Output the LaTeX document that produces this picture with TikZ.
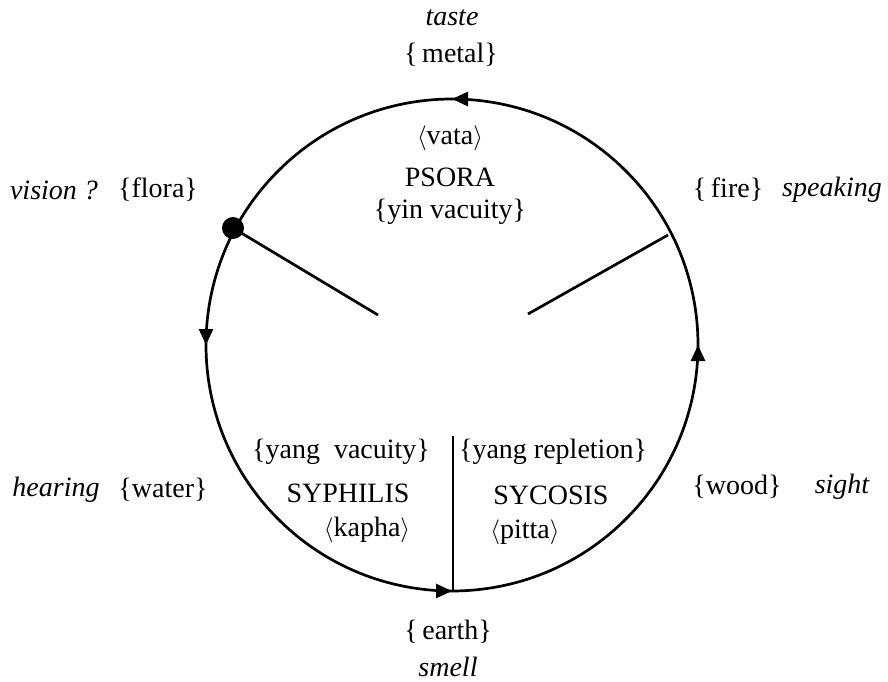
\documentclass[tikz,border=0pt]{standalone}
\usepackage{fontspec}
\setmainfont{Liberation Serif}
\usetikzlibrary{arrows.meta,decorations.markings}
\tikzset{
  txt/.style={inner sep=0pt, font=\fontsize{28}{34}\selectfont},
  itxt/.style={txt, font=\fontsize{28}{34}\selectfont\itshape},
  ring/.style={line width=2.7pt,
    decoration={markings,
      mark=at position 0.125 with {\arrow{Triangle[length=16pt,width=14pt]}},
      mark=at position 0.375 with {\arrow{Triangle[length=16pt,width=14pt]}},
      mark=at position 0.625 with {\arrow{Triangle[length=16pt,width=14pt]}},
      mark=at position 0.875 with {\arrow{Triangle[length=16pt,width=14pt]}}},
    postaction={decorate}},
  spoke/.style={line width=2.7pt}
}
\begin{document}
\begin{tikzpicture}[x=1pt,y=1pt]
\useasboundingbox (0,0) rectangle (888,681);
\coordinate (c) at (452,336);
\draw[ring] (c) ++(-45:246) arc[start angle=-45, end angle=315, radius=246];
% spokes
\coordinate (dot) at (233,453);
\coordinate (lin) at (378,366);
\coordinate (rout) at (668,446);
\coordinate (rin) at (528,367);
\coordinate (vtop) at (453,245);
\coordinate (vbot) at (453,90);
\draw[spoke] (dot) -- (lin);
\draw[spoke] (rout) -- (rin);
\draw[spoke] (vtop) -- (vbot);
\fill (dot) circle[radius=11];
% texts
\node[itxt] (taste) at (452,663) {taste};
\node[txt] (metal) at (451,626) {\{\,metal\}};
\node[txt] (vata) at (450,543) {$\langle$vata$\rangle$};
\node[txt] (psora) at (450,504) {PSORA};
\node[txt] (yinvac) at (450,469) {\{yin vacuity\}};
\node[itxt] (vision) at (54,491) {vision ?};
\node[txt] (flora) at (158,491) {\{flora\}};
\node[txt] (fire) at (728,491) {\{\,fire\}};
\node[itxt] (speaking) at (832,491) {speaking};
\node[itxt] (hearing) at (56,191) {hearing};
\node[txt] (water) at (163,191) {\{water\}};
\node[txt] (yangvac) at (341,229) {\{yang\ \ vacuity\}};
\node[txt] (syph) at (348,188) {SYPHILIS};
\node[txt] (kapha) at (367,151) {$\langle$kapha$\rangle$};
\node[txt] (yangrep) at (553,229) {\{yang repletion\}};
\node[txt] (syc) at (551,186) {SYCOSIS};
\node[txt] (pitta) at (525,149) {$\langle$pitta$\rangle$};
\node[txt] (wood) at (737,194) {\{wood\}};
\node[itxt] (sight) at (842,194) {sight};
\node[txt] (earth) at (448,49) {\{\,earth\}};
\node[itxt] (smell) at (448,14) {smell};
\end{tikzpicture}
\end{document}
